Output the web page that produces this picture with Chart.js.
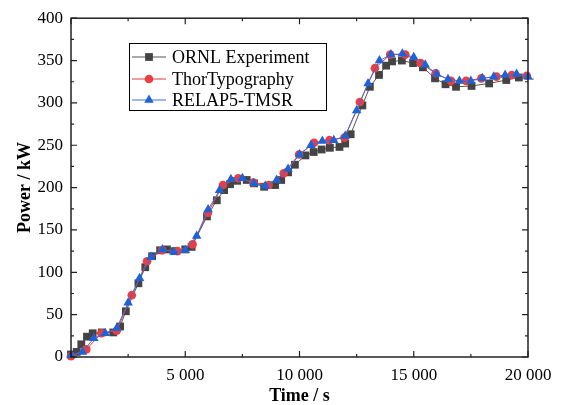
<!DOCTYPE html>
<html>
<head>
<meta charset="utf-8">
<script src="https://cdn.jsdelivr.net/npm/chart.js@4.4.0/dist/chart.umd.min.js"></script>
<style>
  html, body { margin: 0; padding: 0; background: #fff; }
  #wrap { width: 566px; height: 405px; }
</style>
</head>
<body>
<div id="wrap"><canvas id="grafica"></canvas></div>
<script>
const ornlTime = [0, 250, 450, 700, 950, 1350, 1850, 2150, 2400, 2950, 3250, 3550, 3900, 4200, 4550, 5000, 5280,
  5950, 6380, 6700, 6960, 7270, 7690, 8010, 8450, 8930, 9200, 9500, 9800, 10260, 10620, 10970, 11330, 11750,
  12000, 12240, 12750, 13080, 13480, 13790, 14050, 14480, 14970, 15400, 15930, 16390, 16850, 17530, 18300,
  19050, 19600, 20250];
const ornlPower = [3, 6, 15, 24, 28, 29, 29, 36, 54, 87, 106, 119, 126, 127, 125, 127, 130,
  166, 185, 197, 204, 208, 209, 205, 201, 203, 209, 218, 227, 238, 242, 245, 247, 248,
  252, 263, 297, 319, 333, 344, 349, 350, 347, 342, 329, 322, 319, 320, 323,
  327, 330, 328];

const thorTime = [0, 670, 1330, 2000, 2660, 3330, 3990, 4660, 5320, 5990, 6650, 7320, 7980, 8650, 9310, 9980,
  10640, 11310, 11970, 12640, 13300, 13970, 14630, 15300, 15960, 16630, 17290, 17960, 18620, 19290, 19950];
const thorPower = [1, 9, 28, 31, 73, 113, 126, 125, 133, 170, 203, 211, 206, 203, 217, 239,
  253, 256, 259, 301, 341, 357, 357, 347, 335, 326, 326, 329, 331, 333, 332];

const relapTime = [0, 500, 1000, 1500, 2000, 2500, 3000, 3500, 4000, 4500, 5000, 5500, 6000, 6500, 7000, 7500,
  8000, 8500, 9000, 9500, 10000, 10500, 11000, 11500, 12000, 12500, 13000, 13500, 14000, 14500, 15000, 15500,
  16000, 16500, 17000, 17500, 18000, 18500, 19000, 19500, 20000];
const relapPower = [2, 6, 22, 28, 34, 64, 93, 118, 127, 124, 126, 143, 174, 197, 210, 211,
  205, 202, 209, 222, 239, 250, 255, 256, 261, 291, 323, 350, 357, 358, 354, 345,
  334, 328, 326, 326, 329, 331, 333, 334, 331];

const serie = ['ORNL Experiment', 'ThorTypography', 'RELAP5-TMSR'];

function pares(tx, py) {
  return tx.map((t, i) => ({ x: t, y: py[i] }));
}

const areaIzq = 71, areaDer = 528, areaSup = 14, areaInf = 357;
const fuente = '"Liberation Serif", "Times New Roman", serif';

// inward ticks on all four sides plus the frame
const marco = {
  id: 'marco',
  afterDraw(chart) {
    const ctx = chart.ctx;
    const a = chart.chartArea;
    const xs = chart.scales.x, ys = chart.scales.y;
    ctx.save();
    ctx.strokeStyle = '#222';
    ctx.lineWidth = 1.5;
    ctx.strokeRect(a.left, a.top, a.right - a.left, a.bottom - a.top);
    ctx.lineWidth = 1.2;
    ctx.beginPath();
    for (let v = 0; v <= 20000; v += 2500) {
      const px = xs.getPixelForValue(v);
      const len = v % 5000 === 0 ? 6 : 3;
      ctx.moveTo(px, a.bottom); ctx.lineTo(px, a.bottom - len);
      ctx.moveTo(px, a.top); ctx.lineTo(px, a.top + len);
    }
    for (let v = 0; v <= 400; v += 25) {
      const py = ys.getPixelForValue(v);
      const len = v % 50 === 0 ? 6 : 3;
      ctx.moveTo(a.left, py); ctx.lineTo(a.left + len, py);
      ctx.moveTo(a.right, py); ctx.lineTo(a.right - len, py);
    }
    ctx.stroke();
    ctx.restore();
  }
};

const leyenda = {
  id: 'leyenda',
  afterDraw(chart) {
    const ctx = chart.ctx;
    ctx.save();
    ctx.fillStyle = '#fff';
    ctx.fillRect(129.5, 43.5, 197, 67);
    ctx.strokeStyle = '#000';
    ctx.lineWidth = 1;
    ctx.strokeRect(129.5, 43.5, 197, 67);
    const filas = [57, 79, 100];
    chart.data.datasets.forEach((ds, i) => {
      const y = filas[i];
      ctx.strokeStyle = ds.borderColor;
      ctx.lineWidth = 1;
      ctx.beginPath();
      ctx.moveTo(132, y); ctx.lineTo(166, y);
      ctx.stroke();
      ctx.fillStyle = ds.pointBackgroundColor;
      ctx.strokeStyle = ds.pointBackgroundColor;
      Chart.helpers.drawPoint(ctx, { pointStyle: ds.pointStyle, radius: ds.pointRadius, rotation: 0, borderWidth: 0 }, 149, y);
      ctx.fillStyle = '#000';
      ctx.font = '18px ' + fuente;
      ctx.textBaseline = 'middle';
      ctx.textAlign = 'left';
      ctx.fillText(ds.label, 172, y + 1);
    });
    ctx.restore();
  }
};

const ctx = document.getElementById('grafica').getContext('2d');
const grafica = new Chart(ctx, {
  type: 'line',
  data: {
    datasets: [{
      label: serie[0],
      data: pares(ornlTime, ornlPower),
      borderColor: '#555555',
      borderWidth: 1,
      pointStyle: 'rect',
      pointRadius: 5.5,
      pointBackgroundColor: '#444444',
      pointBorderWidth: 0,
      order: 3,
      clip: false
    }, {
      label: serie[1],
      data: pares(thorTime, thorPower),
      borderColor: '#e8383d',
      borderWidth: 1,
      pointStyle: 'circle',
      pointRadius: 4.3,
      pointBackgroundColor: '#ec3d42',
      pointBorderWidth: 0,
      order: 2,
      clip: false
    }, {
      label: serie[2],
      data: pares(relapTime, relapPower),
      borderColor: '#3a70da',
      borderWidth: 1,
      pointStyle: 'triangle',
      pointRadius: 5.5,
      pointBackgroundColor: '#1f62d6',
      pointBorderWidth: 0,
      order: 1,
      clip: false
    }]
  },
  options: {
    responsive: true,
    maintainAspectRatio: false,
    animation: false,
    layout: { padding: { top: areaSup, right: 566 - areaDer, left: 0, bottom: 0 } },
    plugins: {
      legend: { display: false },
      tooltip: { enabled: false }
    },
    elements: { line: { tension: 0 } },
    scales: {
      x: {
        type: 'linear',
        min: 0,
        max: 20000,
        afterFit: s => { s.height = 405 - areaInf; },
        grid: { display: false, drawTicks: false },
        border: { display: false },
        ticks: {
          stepSize: 5000,
          padding: 8,
          color: '#000',
          font: { family: fuente, size: 17 },
          maxRotation: 0,
          callback: v => v === 0 ? '' : String(v).replace(/\B(?=(\d{3})+(?!\d))/g, ' ')
        },
        title: {
          display: true,
          text: 'Time / s',
          color: '#000',
          font: { family: fuente, size: 18, weight: 'bold' },
          padding: { top: 0, bottom: -2 }
        }
      },
      y: {
        min: 0,
        max: 400,
        afterFit: s => { s.width = areaIzq; },
        grid: { display: false, drawTicks: false },
        border: { display: false },
        ticks: {
          stepSize: 50,
          padding: 8,
          color: '#000',
          font: { family: fuente, size: 17 }
        },
        title: {
          display: true,
          text: 'Power / kW',
          color: '#000',
          font: { family: fuente, size: 18, weight: 'bold' },
          padding: { top: 15, bottom: 0 }
        }
      }
    }
  },
  plugins: [marco, leyenda]
});
</script>
</body>
</html>
